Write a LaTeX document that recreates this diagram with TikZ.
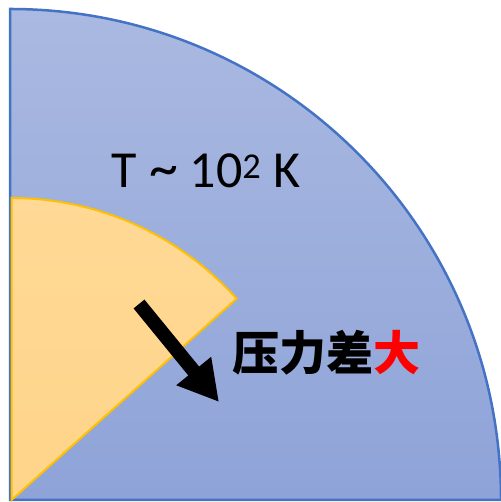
\documentclass[tikz,border=0pt]{standalone}
\usepackage{fontspec}
\setmainfont{Carlito}
\newfontfamily\cjk{Noto Sans CJK SC}
\usetikzlibrary{arrows.meta}
\definecolor{bluetop}{HTML}{AAB9E1}
\definecolor{bluebot}{HTML}{8EA3D8}
\definecolor{blueline}{HTML}{4472C4}
\definecolor{orangetop}{HTML}{FFD995}
\definecolor{orangebot}{HTML}{FFD48A}
\definecolor{orangeline}{HTML}{FFC000}
\tikzset{
  outerregion/.style={draw=blueline,line width=2.5pt,top color=bluetop,bottom color=bluebot},
  innerregion/.style={draw=orangeline,line width=2pt,top color=orangetop,bottom color=orangebot,line join=miter},
  bigarrow/.style={line width=14pt,-{Triangle[width=42pt,length=40pt]}},
  label/.style={inner sep=0pt,font=\fontsize{52}{56}\selectfont}
}
\begin{document}
\begin{tikzpicture}[x=1pt,y=1pt]
\useasboundingbox (0,0) rectangle (500,502);
\coordinate (O) at (10,2);
\coordinate (C) at (11.5,2);
\fill[outerregion] (O) -- ++(0,491) arc[start angle=90,end angle=0,radius=491] -- cycle;
\fill[innerregion] (C) -- ++(0,302) arc[start angle=90,end angle=41.8,radius=302] -- cycle;
\coordinate (a1) at (139,198);
\coordinate (a2) at (219,100);
\draw[bigarrow] (a1) -- (a2);
\node[label] (temp) at (206,331) {T {\fontsize{58}{60}\selectfont\char126} 10\textsuperscript{2} K};
\node[label,font=\fontsize{47}{50}\selectfont\cjk\bfseries] (press) at (326,149) {压力差\textcolor{red}{大}};
\end{tikzpicture}
\end{document}
